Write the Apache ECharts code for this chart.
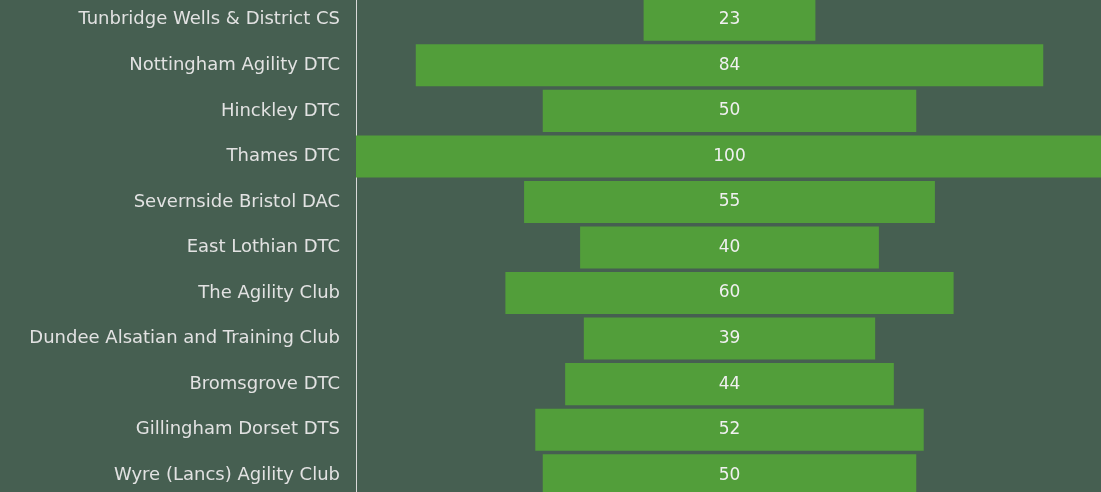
<!DOCTYPE html>
<html>
<head>
<meta charset="utf-8">
<script src="https://cdn.jsdelivr.net/npm/echarts@6/dist/echarts.min.js"></script>
<style>
  html, body { margin: 0; padding: 0; background: #465f51; overflow: hidden; }
  #chart { position: absolute; left: 0; top: -3px; width: 1103px; height: 501px; }
</style>
</head>
<body>
<div id="chart"></div>
<script>
const clubs = [
  'Tunbridge Wells & District CS',
  'Nottingham Agility DTC',
  'Hinckley DTC',
  'Thames DTC',
  'Severnside Bristol DAC',
  'East Lothian DTC',
  'The Agility Club',
  'Dundee Alsatian and Training Club',
  'Bromsgrove DTC',
  'Gillingham Dorset DTS',
  'Wyre (Lancs) Agility Club'
];
const scores = [23, 84, 50, 100, 55, 40, 60, 39, 44, 52, 50];
const maxScore = 100;

// spacer so every bar sits centred on the axis
const spacer = scores.map(v => (maxScore - v) / 2);

const chart = echarts.init(document.getElementById('chart'));
chart.setOption({
  backgroundColor: '#465f51',
  animation: false,
  grid: { left: 356, right: 0, top: 0, bottom: 0, containLabel: false },
  xAxis: {
    type: 'value',
    min: 0,
    max: maxScore,
    show: false
  },
  yAxis: {
    type: 'category',
    data: clubs,
    inverse: true,
    axisTick: { show: false },
    axisLine: { show: true, lineStyle: { color: '#d9d9d9', width: 1 } },
    axisLabel: {
      color: '#e2e2e2',
      fontFamily: 'DejaVu Sans',
      fontSize: 18,
      margin: 16
    }
  },
  series: [
    {
      type: 'bar',
      stack: 'f',
      data: spacer,
      itemStyle: { color: 'transparent' },
      barCategoryGap: '7.7%',
      silent: true
    },
    {
      type: 'bar',
      stack: 'f',
      data: scores,
      barCategoryGap: '7.7%',
      itemStyle: { color: '#529e3a' },
      label: {
        show: true,
        position: 'inside',
        color: '#f0f0f0',
        fontFamily: 'DejaVu Sans',
        fontSize: 17
      }
    }
  ]
});
</script>
</body>
</html>
